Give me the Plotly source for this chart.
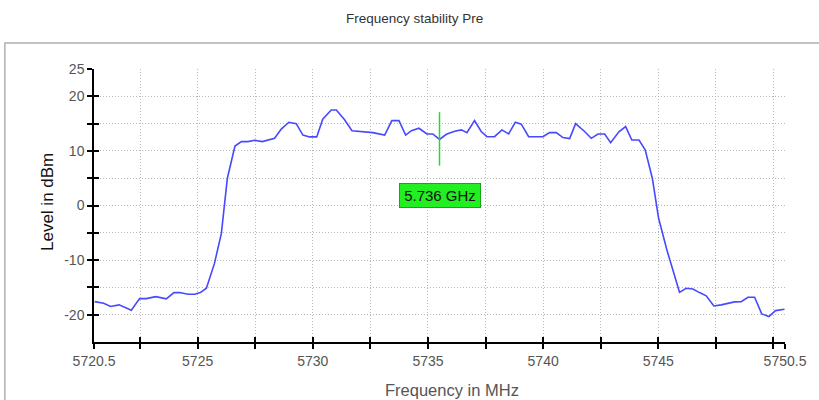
import plotly.graph_objects as go

# ---- data ----
freq_mhz = [5720.53, 5720.92, 5721.22, 5721.59, 5722.12, 5722.48, 5722.77, 5723.18, 5723.64, 5723.97,
            5724.22, 5724.58, 5724.87, 5725.12, 5725.38, 5725.73, 5726.03, 5726.29, 5726.62, 5726.90,
            5727.18, 5727.47, 5727.81, 5728.34, 5728.63, 5728.96, 5729.28, 5729.57, 5729.86, 5730.17,
            5730.43, 5730.80, 5731.02, 5731.38, 5731.70, 5732.18, 5732.61, 5733.12, 5733.43, 5733.74,
            5734.03, 5734.28, 5734.61, 5734.95, 5735.21, 5735.50, 5735.80, 5736.16, 5736.45, 5736.69,
            5737.02, 5737.31, 5737.56, 5737.89, 5738.21, 5738.50, 5738.79, 5739.05, 5739.37, 5739.99,
            5740.28, 5740.57, 5740.86, 5741.15, 5741.41, 5741.80, 5742.09, 5742.38, 5742.67, 5742.93,
            5743.29, 5743.58, 5743.85, 5744.16, 5744.43, 5744.74, 5745.01, 5745.37, 5745.92, 5746.21,
            5746.50, 5746.79, 5747.08, 5747.41, 5747.73, 5748.31, 5748.60, 5748.89, 5749.18, 5749.49,
            5749.80, 5750.09, 5750.48]
level_dbm = [-17.6, -17.9, -18.5, -18.2, -19.2, -17.05, -17.05, -16.7, -17.1, -15.95,
             -15.95, -16.25, -16.25, -15.95, -15.15, -10.6, -5.1, 5.0, 10.9, 11.7,
             11.7, 11.96, 11.7, 12.3, 14.0, 15.25, 15.0, 12.9, 12.56, 12.56,
             15.8, 17.5, 17.5, 15.7, 13.7, 13.5, 13.35, 12.9, 15.55, 15.55,
             12.9, 13.7, 14.15, 13.1, 13.1, 12.1, 13.05, 13.6, 13.85, 13.35,
             15.55, 13.55, 12.6, 12.6, 13.85, 13.1, 15.25, 14.9, 12.6, 12.6,
             13.35, 13.35, 12.45, 12.25, 15.0, 13.55, 12.3, 13.1, 13.1, 11.5,
             13.5, 14.45, 12.0, 12.0, 10.2, 5.0, -2.3, -8.1, -15.9, -15.15,
             -15.3, -15.95, -16.55, -18.4, -18.2, -17.65, -17.6, -16.8, -16.8, -19.85,
             -20.35, -19.25, -19.0]

x_tickvals = [5720.5, 5722.5, 5725, 5727.5, 5730, 5732.5, 5735, 5737.5, 5740, 5742.5, 5745, 5747.5, 5750, 5750.5]
x_ticktext = ["5720.5", "", "5725", "", "5730", "", "5735", "", "5740", "", "5745", "", "", "5750.5"]
y_tickvals = [-20, -15, -10, -5, 0, 5, 10, 15, 20, 25]
y_ticktext = ["-20", "", "-10", "", "0", "", "10", "", "20", "25"]

x_range = [5720.5, 5750.5]
y_range = [-25, 25]

marker_freq = 5735.5
marker_low = 7.3
marker_high = 17.1
marker_label = "5.736 GHz"
marker_label_level = 1.76

title_text = "Frequency stability Pre"
x_title = "Frequency in MHz"
y_title = "Level in dBm"

# ---- figure ----
fig = go.Figure()
fig.add_trace(go.Scatter(x=freq_mhz, y=level_dbm, mode="lines",
                         line=dict(color="#4848ff", width=1.6), hoverinfo="skip",
                         showlegend=False))
# helper trace so overlay axes (for ticks crossing the axis line) get drawn
fig.add_trace(go.Scatter(x=[x_range[0]], y=[y_range[0]], xaxis="x2", yaxis="y2",
                         mode="markers", marker=dict(opacity=0), showlegend=False,
                         hoverinfo="skip"))

tickfont = dict(family="Liberation Sans, Arial, sans-serif", size=14, color="#555555")
grid = dict(showgrid=True, gridcolor="#b8b8b8", griddash="1px,2px", gridwidth=1)

fig.update_layout(
    width=819, height=400,
    margin=dict(l=94, r=34, t=69, b=58),
    paper_bgcolor="white", plot_bgcolor="white",
    showlegend=False,
    xaxis=dict(range=x_range, tickmode="array", tickvals=x_tickvals, ticktext=x_ticktext,
               ticks="outside", ticklen=5, tickwidth=1.5, tickcolor="black",
               showline=True, linecolor="black", linewidth=1.5, zeroline=False,
               tickfont=tickfont, **grid),
    yaxis=dict(range=y_range, tickmode="array", tickvals=y_tickvals, ticktext=y_ticktext,
               ticks="outside", ticklen=5, tickwidth=1.5, tickcolor="black",
               showline=True, linecolor="black", linewidth=1.5, zeroline=False,
               tickfont=tickfont, **grid),
    xaxis2=dict(range=x_range, overlaying="x", anchor="y", side="bottom",
                tickmode="array", tickvals=x_tickvals, showticklabels=False,
                ticks="inside", ticklen=5, tickwidth=1.5, tickcolor="black",
                showline=False, showgrid=False, zeroline=False),
    yaxis2=dict(range=y_range, overlaying="y", anchor="x", side="left",
                tickmode="array", tickvals=y_tickvals, showticklabels=False,
                ticks="inside", ticklen=5, tickwidth=1.5, tickcolor="black",
                showline=False, showgrid=False, zeroline=False),
)

# outer panel frame
fig.add_shape(type="rect", xref="paper", yref="paper",
              x0=-0.129, x1=1.2, y0=-0.5, y1=1.095,
              line=dict(color="#b0b0b0", width=1.5), fillcolor="rgba(0,0,0,0)", layer="below")

# title
fig.add_annotation(text=title_text, xref="paper", yref="paper",
                   x=(415 - 94) / 691.2, y=(342 - 18) / 273, showarrow=False,
                   xanchor="center", yanchor="middle",
                   font=dict(family="Liberation Sans Narrow, Liberation Sans, Arial, sans-serif", size=13.5, color="#333333"))
# axis titles
fig.add_annotation(text=x_title, xref="paper", yref="paper",
                   x=(452 - 94) / 691.2, y=(342 - 390) / 273, showarrow=False,
                   xanchor="center", yanchor="middle",
                   font=dict(family="Liberation Sans, Arial, sans-serif", size=16.5, color="#555555"))
fig.add_annotation(text=y_title, xref="paper", yref="paper",
                   x=(47 - 94) / 691.2, y=(342 - 202) / 273, showarrow=False,
                   textangle=-90, xanchor="center", yanchor="middle",
                   font=dict(family="Liberation Sans, Arial, sans-serif", size=17, color="#111111"))

# marker
fig.add_shape(type="line", xref="x", yref="y", x0=marker_freq, x1=marker_freq,
              y0=marker_low, y1=marker_high, line=dict(color="#22dd22", width=1.5))
fig.add_annotation(text=marker_label, xref="x", yref="y", x=marker_freq, y=marker_label_level,
                   showarrow=False, xanchor="center", yanchor="middle",
                   bgcolor="#22ee22", bordercolor="#15a815", borderwidth=1, borderpad=1,
                   width=78, height=21,
                   font=dict(family="Liberation Sans, Arial, sans-serif", size=15, color="#111111"))

fig.write_html("out.html", config={"displayModeBar": False},
               post_script="document.body.style.margin='0';document.body.style.overflow='hidden';")
